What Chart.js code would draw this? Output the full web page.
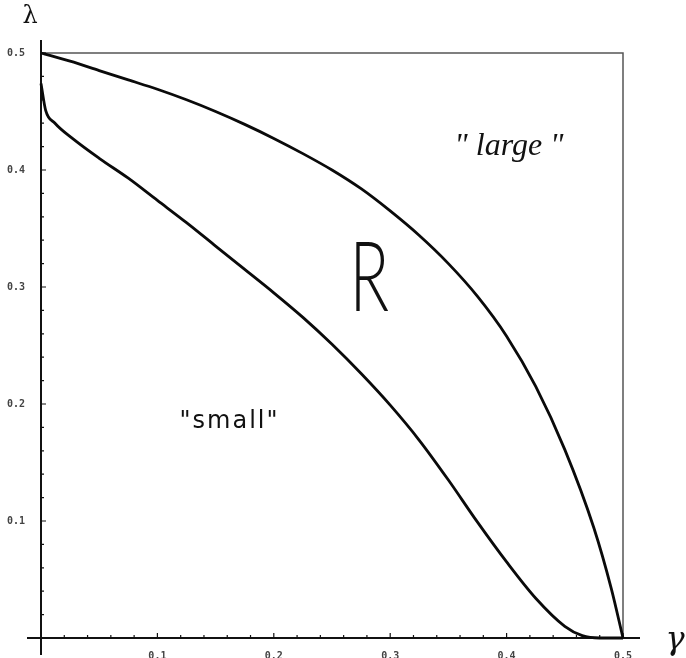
<!DOCTYPE html>
<html>
<head>
<meta charset="utf-8">
<script src="https://cdn.jsdelivr.net/npm/chart.js@4.4.1/dist/chart.umd.min.js"></script>
<style>
  html, body { margin: 0; padding: 0; background: #fff; }
  #wrap { width: 686px; height: 658px; }
</style>
</head>
<body>
<div id="wrap"><canvas id="c"></canvas></div>
<script>
/* ── data ───────────────────────────── */
const gammaUpper  = [0, 0.025, 0.05, 0.075, 0.1, 0.125, 0.15, 0.175, 0.2, 0.225, 0.25, 0.275, 0.3, 0.325, 0.35, 0.375, 0.4, 0.425, 0.45, 0.475, 0.49, 0.5];
const lambdaUpper = [0.5, 0.493, 0.485, 0.477, 0.469, 0.460, 0.450, 0.439, 0.427, 0.414, 0.400, 0.384, 0.365, 0.344, 0.320, 0.292, 0.258, 0.215, 0.161, 0.094, 0.042, 0];

const gammaLower  = [0, 0.004, 0.012, 0.027, 0.05, 0.075, 0.1, 0.125, 0.15, 0.175, 0.2, 0.225, 0.25, 0.275, 0.3, 0.325, 0.35, 0.375, 0.4, 0.425, 0.45, 0.465, 0.48, 0.5];
const lambdaLower = [0.474, 0.451, 0.440, 0.427, 0.410, 0.393, 0.374, 0.355, 0.335, 0.315, 0.295, 0.274, 0.251, 0.226, 0.199, 0.169, 0.135, 0.099, 0.065, 0.034, 0.010, 0.002, 0, 0];

const tickValues = [0.1, 0.2, 0.3, 0.4, 0.5];
const minorStep  = 0.02;

const labels = [
  { text: '" large "', x: 0.402, y: 0.420, font: 'italic 32px "Liberation Serif"' },
  { text: '"small"',   x: 0.162, y: 0.185, font: '24px "DejaVu Sans"', spacing: '2px' },
];

const toPts = (xs, ys) => xs.map((x, i) => ({ x, y: ys[i] }));

/* ── axes, frame, ticks, annotations ── */
const frame = {
  id: 'frame',
  beforeDatasetsDraw(chart) {
    const { ctx, scales: { x: sx, y: sy } } = chart;
    const x0 = sx.getPixelForValue(0), x5 = sx.getPixelForValue(0.5);
    const y0 = sy.getPixelForValue(0), y5 = sy.getPixelForValue(0.5);
    ctx.save();
    // box top + right
    ctx.strokeStyle = '#555'; ctx.lineWidth = 1.5;
    ctx.beginPath();
    ctx.moveTo(x0, y5); ctx.lineTo(x5, y5); ctx.lineTo(x5, y0);
    ctx.stroke();
    // axes
    ctx.strokeStyle = '#111'; ctx.lineWidth = 2;
    ctx.beginPath();
    ctx.moveTo(x0 - 14, y0); ctx.lineTo(x5 + 17, y0);
    ctx.moveTo(x0, y5 - 13); ctx.lineTo(x0, y0 + 17);
    ctx.stroke();
    // inward ticks
    ctx.lineWidth = 1.2;
    ctx.beginPath();
    for (let v = minorStep; v < 0.5 + 1e-9; v += minorStep) {
      const major = tickValues.some(t => Math.abs(t - v) < 1e-6);
      const len = major ? 5 : 3;
      const px = sx.getPixelForValue(v), py = sy.getPixelForValue(v);
      ctx.moveTo(px, y0); ctx.lineTo(px, y0 - len);
      ctx.moveTo(x0, py); ctx.lineTo(x0 + len, py);
    }
    ctx.stroke();
    ctx.restore();
  },
  afterDatasetsDraw(chart) {
    const { ctx, chartArea: ca, scales: { x: sx, y: sy } } = chart;
    ctx.save();
    ctx.fillStyle = '#111';
    ctx.textAlign = 'center'; ctx.textBaseline = 'middle';
    labels.forEach(l => {
      ctx.font = l.font;
      ctx.letterSpacing = l.spacing || '0px';
      ctx.fillText(l.text, sx.getPixelForValue(l.x), sy.getPixelForValue(l.y));
    });
    ctx.letterSpacing = '0px';
    // big R, narrow and thin
    ctx.save();
    ctx.translate(sx.getPixelForValue(0.282), sy.getPixelForValue(0.309));
    ctx.scale(0.68, 1);
    ctx.font = '300 96px Lato';
    ctx.fillText('R', 0, 4);
    ctx.restore();
    // axis symbols
    ctx.font = '24px "DejaVu Serif"';
    ctx.fillText('\u03BB', ca.left - 11, ca.top - 36);
    ctx.font = 'italic 32px "DejaVu Serif"';
    ctx.fillText('\u03B3', ca.right + 52, ca.bottom + 3);
    ctx.restore();
  }
};

const tickFont = { family: '"DejaVu Sans Mono"', size: 10, weight: 'bold' };
const curve = {
  showLine: true, borderColor: '#0a0a0a', borderWidth: 2.8,
  pointRadius: 0, cubicInterpolationMode: 'monotone', clip: 6
};

new Chart('c', {
  type: 'scatter',
  data: {
    datasets: [
      { ...curve, data: toPts(gammaUpper, lambdaUpper) },
      { ...curve, data: toPts(gammaLower, lambdaLower) }
    ]
  },
  options: {
    responsive: true, maintainAspectRatio: false, animation: false,
    layout: { padding: { left: 0, top: 53, right: 63, bottom: 0 } },
    plugins: { legend: { display: false }, tooltip: { enabled: false } },
    scales: {
      x: {
        type: 'linear', min: 0, max: 0.5,
        grid: { display: false }, border: { display: false },
        afterFit: s => { s.height = 20; },
        ticks: {
          stepSize: 0.1, padding: 4, color: '#444', font: tickFont,
          callback: v => v === 0 ? '' : v.toFixed(1)
        }
      },
      y: {
        type: 'linear', min: 0, max: 0.5,
        grid: { display: false }, border: { display: false },
        afterFit: s => { s.width = 41; },
        ticks: {
          stepSize: 0.1, padding: 8, color: '#444', font: tickFont,
          callback: v => v === 0 ? '' : v.toFixed(1)
        }
      }
    }
  },
  plugins: [frame]
});
</script>
</body>
</html>
